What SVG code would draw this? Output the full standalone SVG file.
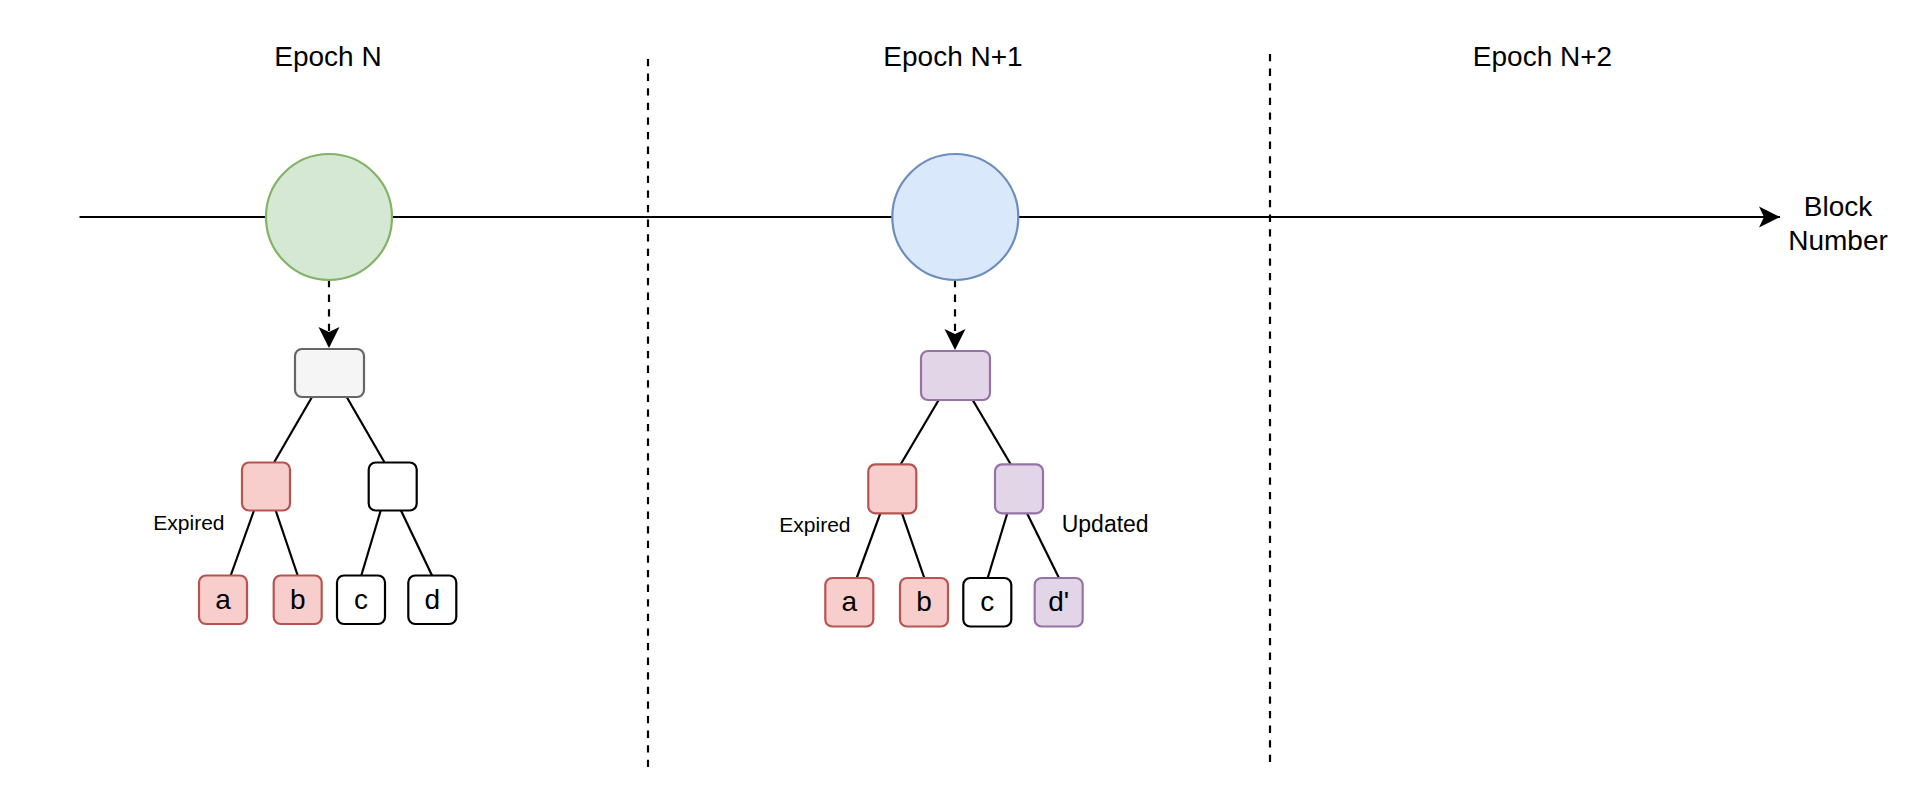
<svg xmlns="http://www.w3.org/2000/svg" width="1916" height="786" viewBox="0 0 1916 786">
<style>
text{font-family:"Liberation Sans",Arial,Helvetica,sans-serif;fill:#000}
.t28{font-size:28px;text-anchor:middle}
.lbl{font-size:21px}
.edge{stroke:#000;stroke-width:2.2;fill:none}
.dash{stroke:#000;stroke-width:2.2;fill:none;stroke-dasharray:7.3 7.3}
.red{fill:#f8cecc;stroke:#b85450;stroke-width:2.2}
.wht{fill:#fff;stroke:#000;stroke-width:2.2}
.gry{fill:#f5f5f5;stroke:#666;stroke-width:2.2}
.pur{fill:#e1d5e7;stroke:#9673a6;stroke-width:2.2}
</style>
<defs>
<marker id="arr" markerUnits="userSpaceOnUse" markerWidth="22" markerHeight="22" refX="21" refY="10.5" orient="auto" viewBox="0 0 22 21">
<path d="M0,0 L21,10.5 L0,21 L5,10.5 Z" fill="#000"/>
</marker>
</defs>
<rect width="1916" height="786" fill="#fff"/>

<g id="dividers">
<line class="dash" x1="648" y1="59" x2="648" y2="770"/>
<line class="dash" x1="1270" y1="54" x2="1270" y2="766"/>
</g>

<g id="connectors">
<line class="edge" x1="79.5" y1="217" x2="1780" y2="217" marker-end="url(#arr)"/>
<line class="dash" x1="329" y1="280" x2="329" y2="348" marker-end="url(#arr)"/>
<line class="dash" x1="955" y1="280" x2="955" y2="350" marker-end="url(#arr)"/>
<line class="edge" x1="312" y1="397" x2="274.3" y2="462"/>
<line class="edge" x1="346.7" y1="397" x2="384.3" y2="462"/>
<line class="edge" x1="254" y1="510.5" x2="230.7" y2="575.5"/>
<line class="edge" x1="275.7" y1="510.5" x2="297.7" y2="575.5"/>
<line class="edge" x1="380.7" y1="510.5" x2="361.3" y2="575.5"/>
<line class="edge" x1="401" y1="510.5" x2="432" y2="575.5"/>
<line class="edge" x1="938.7" y1="400" x2="900.7" y2="464.3"/>
<line class="edge" x1="972.7" y1="400" x2="1010.7" y2="464.3"/>
<line class="edge" x1="880.3" y1="513.3" x2="856.7" y2="578"/>
<line class="edge" x1="902" y1="513.3" x2="924.3" y2="578"/>
<line class="edge" x1="1007.3" y1="513.3" x2="987.7" y2="578"/>
<line class="edge" x1="1027" y1="513.3" x2="1059" y2="578"/>
</g>

<g id="titles">
<text class="t28" x="328" y="66">Epoch N</text>
<text class="t28" x="953" y="66">Epoch N+1</text>
<text class="t28" x="1542.5" y="66">Epoch N+2</text>
<text class="t28" x="1838" y="216">Block</text>
<text class="t28" x="1838" y="250">Number</text>
</g>

<g id="epochN-circle"><circle cx="329" cy="217" r="63" fill="#d5e8d4" stroke="#82b366" stroke-width="2.2"/></g>
<g id="epochN1-circle"><circle cx="955.3" cy="217" r="63" fill="#dae8fc" stroke="#6c8ebf" stroke-width="2.2"/></g>

<g id="t1-root"><rect class="gry" x="295" y="349" width="69" height="48" rx="7"/></g>
<g id="t1-left"><rect class="red" x="242" y="462.5" width="48" height="48" rx="7"/></g>
<g id="t1-right"><rect class="wht" x="368.7" y="462.5" width="48" height="48" rx="7"/></g>
<g id="t1-a"><rect class="red" x="199" y="575.5" width="48" height="48.5" rx="7"/><text class="t28" x="223" y="609">a</text></g>
<g id="t1-b"><rect class="red" x="273.7" y="575.5" width="48" height="48.5" rx="7"/><text class="t28" x="297.7" y="609">b</text></g>
<g id="t1-c"><rect class="wht" x="337" y="575.5" width="48" height="48.5" rx="7"/><text class="t28" x="361" y="609">c</text></g>
<g id="t1-d"><rect class="wht" x="408.3" y="575.5" width="48" height="48.5" rx="7"/><text class="t28" x="432.3" y="609">d</text></g>
<g id="t1-expired"><text class="lbl" x="153.3" y="530">Expired</text></g>

<g id="t2-root"><rect class="pur" x="921" y="351" width="69" height="49" rx="7"/></g>
<g id="t2-left"><rect class="red" x="868.3" y="464.3" width="48" height="49" rx="7"/></g>
<g id="t2-right"><rect class="pur" x="995" y="464.3" width="48" height="49" rx="7"/></g>
<g id="t2-a"><rect class="red" x="825.3" y="578" width="48" height="48.5" rx="7"/><text class="t28" x="849.3" y="610.7">a</text></g>
<g id="t2-b"><rect class="red" x="900" y="578" width="48" height="48.5" rx="7"/><text class="t28" x="924" y="610.7">b</text></g>
<g id="t2-c"><rect class="wht" x="963.3" y="578" width="48" height="48.5" rx="7"/><text class="t28" x="987.3" y="610.7">c</text></g>
<g id="t2-d"><rect class="pur" x="1034.7" y="578" width="48" height="48.5" rx="7"/><text class="t28" x="1058.7" y="610.7">d'</text></g>
<g id="t2-expired"><text class="lbl" x="779.3" y="532.3">Expired</text></g>
<g id="t2-updated"><text class="lbl" x="1061.7" y="532.3" style="font-size:23px">Updated</text></g>
</svg>
